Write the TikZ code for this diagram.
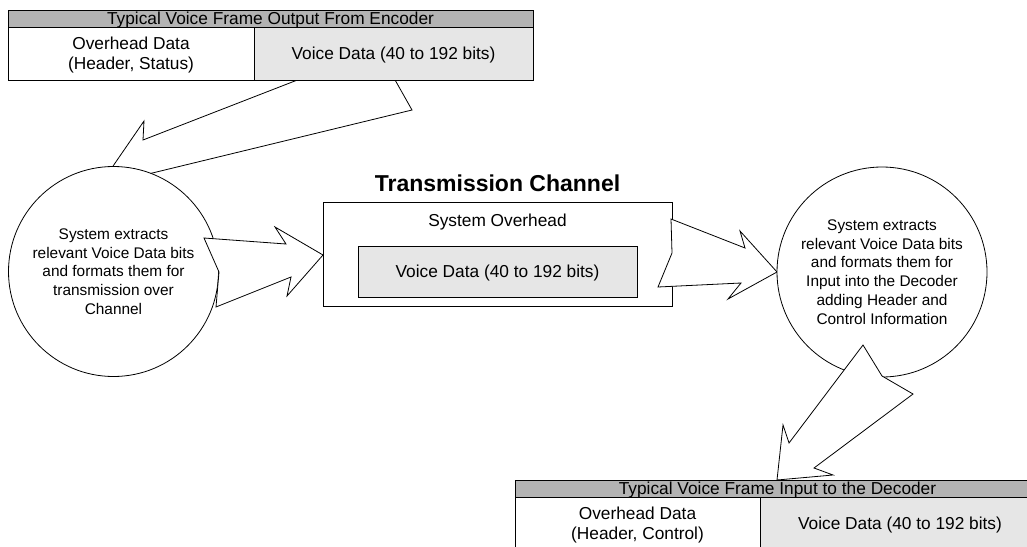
\documentclass[tikz,border=0pt]{standalone}
\usepackage{fontspec}
\setmainfont{Liberation Sans}
\definecolor{bargray}{HTML}{B3B3B3}
\definecolor{cellgray}{HTML}{E6E6E6}
\tikzset{
 framebox/.style={draw=black, line width=0.9pt},
 blockarrow/.style={draw=black, fill=white, line width=0.8pt, line join=miter, miter limit=20},
 ftext/.style={font=\fontsize{17.3}{20}\selectfont, align=center, inner sep=0pt},
 ctext/.style={font=\fontsize{15.4}{18.7}\selectfont, align=center, inner sep=0pt},
 titletext/.style={font=\fontsize{23}{27}\selectfont\bfseries, inner sep=0pt},
 circ/.style={circle, draw=black, fill=white, line width=0.8pt, minimum size=210pt, inner sep=0pt},
}
\begin{document}
\begin{tikzpicture}[x=1pt,y=-1pt]
\useasboundingbox (0,0) rectangle (1027,546);
\clip (0,0) rectangle (1027,546);

% arrow from top frame to left circle (behind frame and circle)
\draw[blockarrow] (412,110) -- (390,71) -- (318,72) -- (143,140) -- (144,121) -- (100,185) -- (140,176) -- cycle;

% top frame
\filldraw[fill=white, framebox] (8,27) rectangle (254,80);
\filldraw[fill=cellgray, framebox] (254,27) rectangle (533,80);
\filldraw[fill=bargray, framebox] (8,10) rectangle (533,27);
\node[ftext] (tbar) at (270.5,20.2) {Typical Voice Frame Output From Encoder};
\node[ftext] (tover) at (131,54.7) {Overhead Data\\(Header, Status)};
\node[ftext] (tvoice) at (393.5,54.7) {Voice Data (40 to 192 bits)};

% left circle
\node[circ, ctext] (lc) at (113.5,271.5) {System extracts\\relevant Voice Data bits\\and formats them for\\transmission over\\Channel};

% arrow left circle -> channel box
\draw[blockarrow] (204,238) -- (286,244) -- (275,227) -- (323,255) -- (287,296) -- (291,277) -- (216,307) -- (219,272) -- cycle;

% transmission channel
\node[titletext] (title) at (497.5,183.5) {Transmission Channel};
\filldraw[fill=white, framebox] (323,202) rectangle (672,306);
\filldraw[fill=cellgray, framebox] (358,246) rectangle (637,297);
\node[ftext] (sysover) at (497.5,221.7) {System Overhead};
\node[ftext] (cvoice) at (497.5,273.2) {Voice Data (40 to 192 bits)};

% arrow channel box -> right circle
\draw[blockarrow] (671,219) -- (745,248) -- (740,231) -- (777,272) -- (728,299) -- (741,283) -- (658,287) -- (672,253) -- cycle;

% right circle
\node[circ, ctext] (rc) at (882,272) {System extracts\\relevant Voice Data bits\\and formats them for\\Input into the Decoder\\adding Header and\\Control Information};

% arrow right circle -> bottom frame
\draw[blockarrow] (863,345) -- (789,443) -- (783,425) -- (777,480) -- (833,475) -- (814,468) -- (913,394) -- (882,376) -- cycle;

% bottom frame
\filldraw[fill=white, framebox] (515,497) rectangle (760,552);
\filldraw[fill=cellgray, framebox] (760,497) rectangle (1040,552);
\filldraw[fill=bargray, framebox] (515,480) rectangle (1040,497);
\node[ftext] (bbar) at (777.5,490.2) {Typical Voice Frame Input to the Decoder};
\node[ftext] (bover) at (637.5,524.7) {Overhead Data\\(Header, Control)};
\node[ftext] (bvoice) at (900,524.7) {Voice Data (40 to 192 bits)};
\end{tikzpicture}
\end{document}
